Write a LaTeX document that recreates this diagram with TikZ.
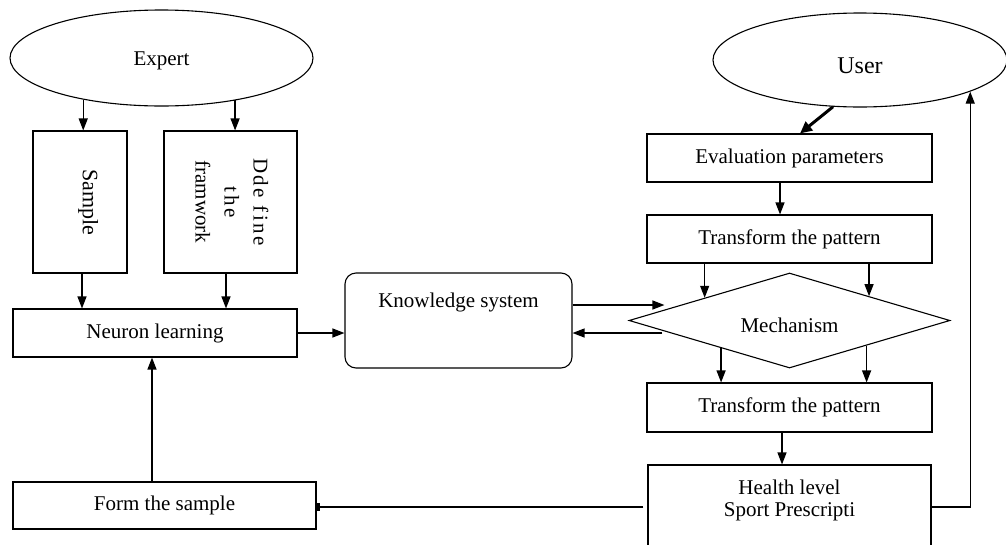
\documentclass[tikz,border=0pt]{standalone}
\usepackage{fontspec}
\setmainfont{Liberation Serif}
\usetikzlibrary{shapes.geometric,arrows.meta,calc}
\newcommand{\dn}[2]{\raisebox{-#1pt}[0pt][0pt]{#2}}
\tikzset{
  base/.style={draw=black, line width=1.1pt, inner sep=0pt, font=\fontsize{21}{25}\selectfont, align=center},
  box/.style={base, rectangle},
  oval/.style={base, ellipse},
  kbox/.style={base, rectangle, rounded corners=11pt},
  decide/.style={base, diamond, aspect=3.38},
  arr/.style={line width=1.2pt, -{Triangle[length=12pt,width=9pt]}},
  thickarr/.style={line width=3pt, -{Triangle[length=12pt,width=11pt]}},
  plain/.style={line width=1.2pt},
}
\begin{document}
\begin{tikzpicture}[x=1pt,y=-1pt]
\clip (0,0) rectangle (1006,544);
\fill[white] (0,0) rectangle (1006,544);
% nodes
\node[oval, minimum width=303pt, minimum height=96pt] (expert) at (161.5,58) {\dn{7.6}{Expert}};
\node[oval, minimum width=294pt, minimum height=94pt] (user) at (860,60) {\fontsize{24}{28}\selectfont\dn{13}{User}};
\node[box, minimum width=94pt, minimum height=142pt] (sample) at (80,202) {\rotatebox{-90}{\fontsize{22}{26}\selectfont\raisebox{2.8pt}[0pt][0pt]{Sample}}};
\node[box, minimum width=133pt, minimum height=142pt] (define) at (230.5,202)
  {\rotatebox{-90}{\fontsize{21}{29}\selectfont\begin{tabular}{@{}c@{}}{\addfontfeature{LetterSpace=12}Dde fine}\\{\addfontfeature{LetterSpace=14}the}\\framwork\end{tabular}}};
\node[box, minimum width=284pt, minimum height=48pt] (neuron) at (155,333) {Neuron learning};
\node[box, minimum width=303pt, minimum height=47pt] (form) at (164.5,505.5) {Form the sample};
\node[kbox, minimum width=227pt, minimum height=95pt,
  label={[font=\fontsize{21}{25}\selectfont, yshift=18.5pt]center:Knowledge system}] (know) at (458.5,320.5) {};
\node[box, minimum width=285pt, minimum height=48pt] (eval) at (789.5,158) {Evaluation parameters};
\node[box, minimum width=285pt, minimum height=48pt] (tp1) at (789.5,239) {Transform the pattern};
\node[decide, minimum width=321pt, minimum height=95pt] (mech) at (789.5,320.5) {\dn{11.5}{Mechanism}};
\node[box, minimum width=285pt, minimum height=49pt] (tp2) at (789.5,407.5) {Transform the pattern};
\node[box, minimum width=283pt, minimum height=84pt,
  label={[font=\fontsize{21}{22}\selectfont, align=center, inner sep=0pt, anchor=north, yshift=-15pt]north:Health level\\Sport Prescripti}] (health) at (789.5,507) {};
\coordinate (mtip) at ($(mech.west)+(36,0)$);
\coordinate (mtail) at ($(mech.west)+(34,0)$);
% connectors
\draw[arr] (expert.208) -- (expert.208 |- sample.north);
\draw[arr] (expert.-30) -- (expert.-30 |- define.north);
\draw[arr] ([xshift=2pt]sample.south) -- ([xshift=2pt]sample.south |- neuron.north);
\draw[arr] ([xshift=-4.5pt]define.south) -- ([xshift=-4.5pt]define.south |- neuron.north);
\draw[arr] ([xshift=-12.5pt]form.north) -- ([xshift=-12.5pt]form.north |- neuron.south);
\draw[arr] (neuron.east) -- (neuron.east -| know.west);
\draw[arr] ([yshift=15.5pt]know.east) -- ([yshift=15.5pt]know.east -| mtip);
\draw[arr] ([yshift=-12.5pt]know.east -| mtail) -- ([yshift=-12.5pt]know.east);
\draw[thickarr] (user.240) -- ([xshift=10.5pt]eval.north);
\draw[arr] ([xshift=-9.5pt]eval.south) -- ([xshift=-9.5pt]tp1.north);
\draw[arr] (tp1.south -| mech.165) -- (mech.165);
\draw[arr] (tp1.south -| mech.17.6) -- (mech.17.6);
\draw[arr] (mech.202.7) -- (mech.202.7 |- tp2.north);
\draw[arr] (mech.342) -- (mech.342 |- tp2.north);
\draw[arr] ([xshift=-7.5pt]tp2.south) -- ([xshift=-7.5pt]health.north);
\draw[arr] (health.east) -| (user.-16.4);
\draw[plain, -{Rectangle[length=3pt,width=8pt]}] ([xshift=-4pt]health.west) -- (health.west -| form.east);
\end{tikzpicture}
\end{document}
